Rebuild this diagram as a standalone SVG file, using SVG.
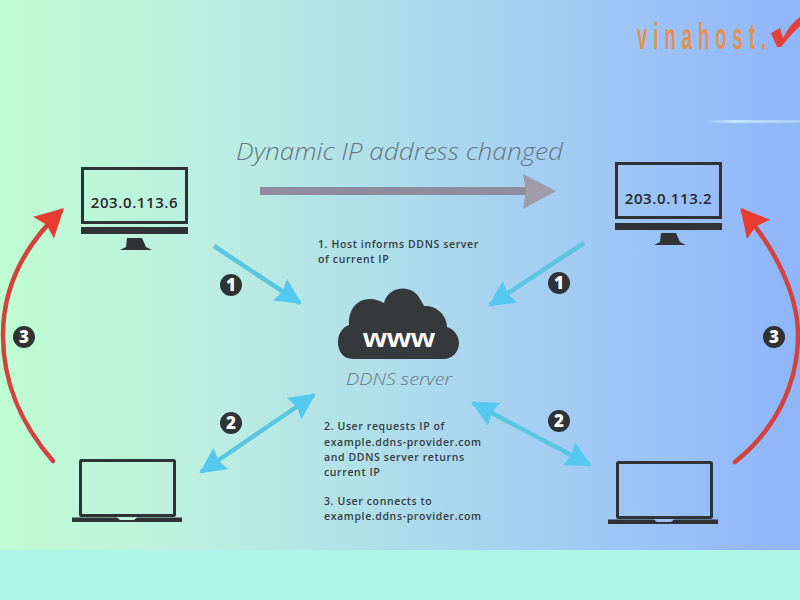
<svg xmlns="http://www.w3.org/2000/svg" width="800" height="600" viewBox="0 0 800 600">
<defs>
<linearGradient id="bg" x1="0" y1="0" x2="1" y2="0">
<stop offset="0" stop-color="#befdd2"/><stop offset="0.25" stop-color="#bcefe0"/><stop offset="0.5" stop-color="#aedcea"/><stop offset="0.75" stop-color="#a0c8f5"/><stop offset="1" stop-color="#8fb5fb"/>
</linearGradient>
<linearGradient id="glow" x1="0" y1="0" x2="1" y2="0"><stop offset="0" stop-color="#bfe6fb" stop-opacity="0"/><stop offset="0.3" stop-color="#bfe6fb"/><stop offset="1" stop-color="#a9cdf9"/></linearGradient>
<marker id="bh" viewBox="0 0 26 26" refX="24" refY="13" markerWidth="26" markerHeight="26" markerUnits="userSpaceOnUse" orient="auto-start-reverse"><path d="M0 0L26 13L0 26L3 13Z" fill="#55c8f0"/></marker>
<marker id="rh" viewBox="0 0 28 30" refX="24" refY="15" markerWidth="28" markerHeight="30" markerUnits="userSpaceOnUse" orient="auto"><path d="M0 0L28 15L0 30L4 15Z" fill="#e83c30"/></marker>
</defs>
<style>
text{font-family:"Open Sans","Liberation Sans",sans-serif}
.d{fill:#2f3336}
.s{fill:none;stroke:#2f3336;stroke-width:3}
.ip{font-size:15px;font-weight:600;fill:#26292c;text-anchor:middle;letter-spacing:.6px}
.cap{font-size:10.500px;font-weight:600;fill:#343c44;letter-spacing:.62px}
.big{font-style:italic;font-weight:300;fill:#637685}
.blue{fill:none;stroke:#5ac5e0;stroke-width:4.500}
.red{fill:none;stroke:#d2433d;stroke-width:4.500;stroke-linecap:round}
.bt{font-size:17px;font-weight:800;fill:#fff;text-anchor:middle}
</style>
<rect width="800" height="600" fill="url(#bg)"/>
<rect y="550" width="800" height="50" fill="#aef5e8"/>
<rect x="705" y="120" width="95" height="3" fill="url(#glow)"/>
<g id="logo">
<text transform="translate(637 49) scale(.5 1)" font-size="37" font-weight="700" fill="#e39150" letter-spacing="12" style="font-family:'Liberation Sans',sans-serif">vinahost.</text>
<path d="M771 33L780 28L783 38Q790 24 800 17V26Q790 35 781 47H777Z" fill="#e2403a"/>
</g>
<g id="title">
<text class="big" x="236" y="160" font-size="24" textLength="327" lengthAdjust="spacingAndGlyphs">Dynamic IP address changed</text>
</g>
<g id="monitor-left">
<rect class="s" x="82.500" y="168.500" width="104" height="54"/>
<rect class="d" x="81" y="227" width="107" height="7"/>
<path class="d" d="M127 238H142L146 247L152 250H120L126 247Z"/>
<text class="ip" x="134.500" y="208">203.0.113.6</text>
</g>
<g id="monitor-right">
<rect class="s" x="616.500" y="163.500" width="104" height="54"/>
<rect class="d" x="615" y="223" width="107" height="7"/>
<path class="d" d="M661 233H676L680 242L686 245H654L660 242Z"/>
<text class="ip" x="668.500" y="204">203.0.113.2</text>
</g>
<g id="laptop-left">
<rect class="s" x="80.500" y="460.500" width="94" height="55" rx="1"/>
<path class="d" d="M72 517.500H117L120 520H134L137 517.500H182V522H72Z"/>
</g>
<g id="laptop-right">
<rect class="s" x="617.500" y="462.500" width="94" height="55" rx="1"/>
<path class="d" d="M608 519.500H654L657 522H671L674 519.500H718V524H608Z"/>
</g>
<g id="ddns-server">
<path d="M353 359C342 359 338 350 338 342C338 333 343 327 349 325C348 311 356 299 370 299C375 299 380 301 384 303C388 286 412 283 420 299C422 302 423 304 424 306C437 305 447 316 447 327C454 329 459 336 459 343C459 352 452 359 444 359Z" fill="#36393c"/>
<text x="399" y="347" font-size="26" font-weight="700" fill="#fff" text-anchor="middle" textLength="72" lengthAdjust="spacingAndGlyphs" style="font-family:'Liberation Sans',sans-serif">www</text>
<text class="big" x="346" y="385" font-size="17" textLength="106" lengthAdjust="spacingAndGlyphs">DDNS server</text>
</g>
<g id="captions">
<text class="cap" x="318" y="248">1. Host informs DDNS server</text>
<text class="cap" x="318" y="263">of current IP</text>
<text class="cap" x="324" y="430">2. User requests IP of</text>
<text class="cap" x="324" y="446">example.ddns-provider.com</text>
<text class="cap" x="324" y="461">and DDNS server returns</text>
<text class="cap" x="324" y="476">current IP</text>
<text class="cap" x="324" y="505">3. User connects to</text>
<text class="cap" x="324" y="520">example.ddns-provider.com</text>
</g>
<g id="connectors">
<path d="M260 191H530" fill="none" stroke="#8e8c9e" stroke-width="8"/>
<path d="M523 174L556 191L523 209L526 191Z" fill="#9f9ba8"/>
<path class="blue" marker-end="url(#bh)" d="M214 246L300 303"/>
<path class="blue" marker-end="url(#bh)" d="M584 243L490 305"/>
<path class="blue" marker-start="url(#bh)" marker-end="url(#bh)" d="M201 472L314 395"/>
<path class="blue" marker-start="url(#bh)" marker-end="url(#bh)" d="M473 403L590 465"/>
<path class="red" marker-end="url(#rh)" d="M53 461C22 425 3 385 3 335C3 290 22 248 61 211"/>
<path class="red" marker-end="url(#rh)" d="M735 462C775 430 798 385 798 335C798 295 776 250 743 211"/>
</g>
<g id="badge-1-left"><circle class="d" cx="231" cy="285" r="11"/><text class="bt" x="231" y="291">1</text></g>
<g id="badge-1-right"><circle class="d" cx="559" cy="283" r="11"/><text class="bt" x="559" y="289">1</text></g>
<g id="badge-2-left"><circle class="d" cx="231" cy="423" r="11"/><text class="bt" x="231" y="429">2</text></g>
<g id="badge-2-right"><circle class="d" cx="559" cy="421" r="11"/><text class="bt" x="559" y="427">2</text></g>
<g id="badge-3-left"><circle class="d" cx="24" cy="337" r="11"/><text class="bt" x="24" y="343">3</text></g>
<g id="badge-3-right"><circle class="d" cx="774" cy="337" r="11"/><text class="bt" x="774" y="343">3</text></g>
</svg>
